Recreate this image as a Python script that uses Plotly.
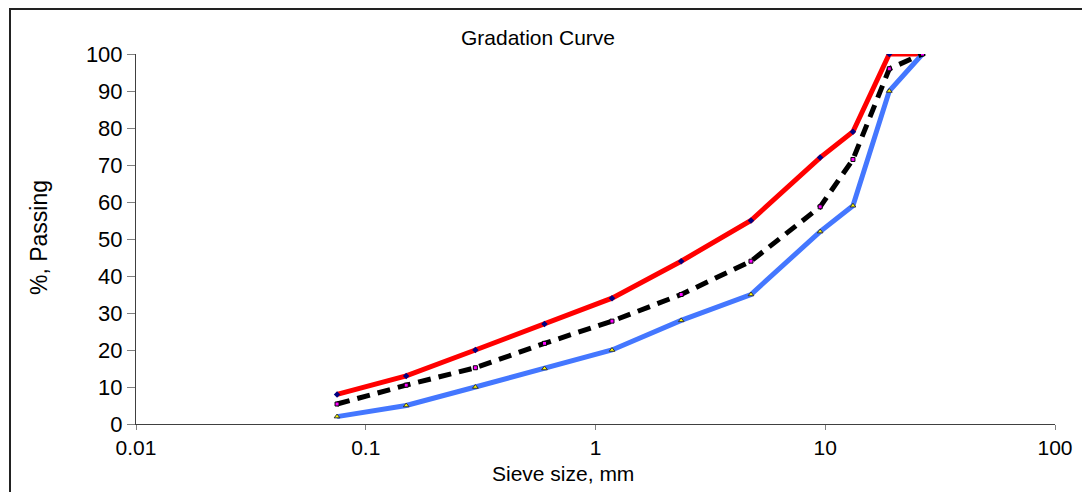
import plotly.graph_objects as go

sieve_mm = [0.075, 0.15, 0.3, 0.6, 1.18, 2.36, 4.75, 9.5, 13.2, 19, 26.5]
upper_limit = [8, 13, 20, 27, 34, 44, 55, 72, 79, 100, 100]
lower_limit = [2, 5, 10, 15, 20, 28, 35, 52, 59, 90, 100]
gradation = [5.4, 10.5, 15.2, 21.8, 27.8, 35, 44, 58.7, 71.5, 96, 100]

x_ticks = [0.01, 0.1, 1, 10, 100]
x_tick_labels = ["0.01", "0.1", "1", "10", "100"]
y_ticks = [0, 10, 20, 30, 40, 50, 60, 70, 80, 90, 100]

FONT = "Liberation Sans, Arial, sans-serif"

# page has an 8px body margin; figure is sized/offset to compensate
W, H = 1082, 484
OFF = 8
PL, PR, PT, PB = 136 - OFF, 1055 - OFF, 54 - OFF, 424 - OFF  # plot area in figure px
PW, PH = PR - PL, PB - PT

fig = go.Figure()
fig.add_trace(go.Scatter(
    x=sieve_mm, y=upper_limit, mode="lines+markers", name="Upper",
    line=dict(color="#ff0000", width=5),
    marker=dict(symbol="diamond", size=5, color="#000080", line=dict(width=0)),
))
fig.add_trace(go.Scatter(
    x=sieve_mm, y=lower_limit, mode="lines+markers", name="Lower",
    line=dict(color="#4477ff", width=5),
    marker=dict(symbol="triangle-up", size=5, color="#ffff00", line=dict(width=1, color="#333333")),
))
fig.add_trace(go.Scatter(
    x=sieve_mm, y=gradation, mode="lines+markers", name="Gradation",
    line=dict(color="#000000", width=5, dash="13px,8px"),
    marker=dict(symbol="square", size=4, color="#ff00ff", line=dict(width=1, color="#000000")),
))

fig.update_layout(
    width=W, height=H,
    margin=dict(l=PL, r=W - PR, t=PT, b=H - PB),
    paper_bgcolor="white", plot_bgcolor="white",
    showlegend=False,
    hovermode=False,
    font=dict(family=FONT, color="#000000"),
    title=dict(text="Gradation Curve", x=(538 - OFF) / W, xanchor="center",
               y=1 - (38 - OFF) / H, yanchor="middle",
               font=dict(size=21, family=FONT, color="#000000")),
)
fig.update_xaxes(
    type="log", range=[-2, 2],
    tickvals=x_ticks, ticktext=x_tick_labels,
    showgrid=False, zeroline=False,
    showline=True, linecolor="#404040", linewidth=1,
    ticks="outside", ticklen=5, tickcolor="#808080", tickwidth=1,
    tickfont=dict(size=21, family=FONT, color="#000000"),
)
fig.update_yaxes(
    range=[0, 100], tickvals=y_ticks,
    showgrid=False, zeroline=False,
    showline=True, linecolor="#404040", linewidth=1,
    ticks="outside", ticklen=8, tickcolor="#808080", tickwidth=1,
    tickfont=dict(size=22, family=FONT, color="#000000"),
)

fig.add_annotation(text="Sieve size, mm", xref="paper", yref="paper",
                   x=(563 - 136) / PW, y=-(473 - 424) / PH, xanchor="center", yanchor="middle",
                   showarrow=False, font=dict(size=21, family=FONT, color="#000000"))
fig.add_annotation(text="%, Passing", xref="paper", yref="paper",
                   x=-(136 - 39) / PW, y=(424 - 238) / PH, xanchor="center", yanchor="middle",
                   textangle=-90,
                   showarrow=False, font=dict(size=23, family=FONT, color="#000000"))

# outer frame (cropped on right and bottom)
fig.add_shape(type="rect", xref="paper", yref="paper",
              x0=-(136 - 10) / PW, x1=1.2, y0=-0.4, y1=(424 - 9) / PH,
              line=dict(color="#222222", width=2), fillcolor="rgba(0,0,0,0)", layer="below")

fig.write_html("out.html")
